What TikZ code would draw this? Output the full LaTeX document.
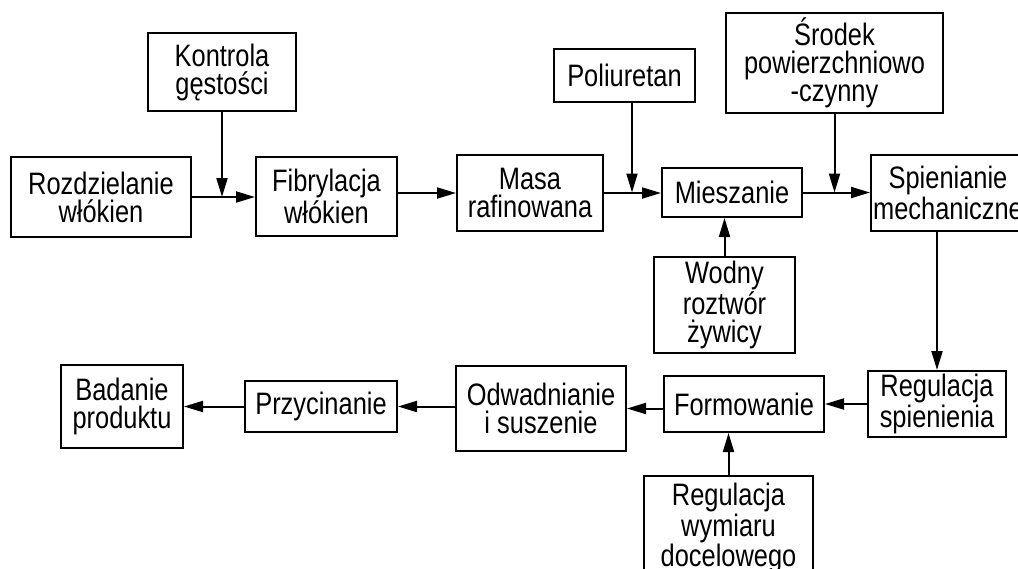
\documentclass[tikz,border=0pt]{standalone}
\usepackage{fontspec}
\setmainfont{Liberation Sans}[FakeStretch=0.82]
\usetikzlibrary{arrows.meta}
\tikzset{
  blok/.style={draw,line width=1pt,align=center,inner sep=1pt,font=\fontsize{15.5}{14}\selectfont},
  strz/.style={-{Triangle[length=9.5pt,width=5.5pt]},line width=1pt}
}
\begin{document}
\begin{tikzpicture}[x=0.5pt,y=-0.5pt]
\useasboundingbox (0,0) rectangle (1018,568);
% gorny ciag
\node[blok,minimum width=74pt,minimum height=39pt](kontr) at (222,72){Kontrola\\gęstości};
\node[blok,minimum width=90pt,minimum height=40pt](rozdz) at (101,197){Rozdzielanie\\włókien};
\node[blok,minimum width=70.5pt,minimum height=39.5pt](fibr) at (326.5,196.5){Fibrylacja\\włókien};
\node[blok,minimum width=73pt,minimum height=38pt](masa) at (530,193){Masa\\rafinowana};
\node[blok,minimum width=70.5pt,minimum height=26.5pt](poli) at (624.5,75.5){Poliuretan};
\node[blok,minimum width=70pt,minimum height=24.5pt](miesz) at (732,192.5){Mieszanie};
\node[blok,minimum width=108.5pt,minimum height=50pt](srodek) at (834.5,63){Środek\\powierzchniowo\\-czynny};
\node[blok,minimum width=77pt,minimum height=38pt](spien) at (948,193){Spienianie\\mechaniczne};
\node[blok,minimum width=70.5pt,minimum height=48pt](wodny) at (724.5,305){Wodny\\roztwór\\żywicy};
% dolny ciag
\node[blok,minimum width=69pt,minimum height=33pt](regsp) at (937,404){Regulacja\\spienienia};
\node[blok,minimum width=80pt,minimum height=28pt](form) at (744,404){Formowanie};
\node[blok,minimum width=85pt,minimum height=42.5pt](odw) at (541,408.5){Odwadnianie\\i suszenie};
\node[blok,minimum width=84.5pt,minimum height=52pt](regw) at (728.5,528){Regulacja\\wymiaru\\docelowego};
\node[blok,minimum width=76pt,minimum height=25.5pt](przyc) at (321,406.5){Przycinanie};
\node[blok,minimum width=61pt,minimum height=41.5pt](bad) at (122,406.5){Badanie\\produktu};
% strzalki
\coordinate (wezel) at (632,192.5);
\draw[strz](rozdz.east)--(rozdz.east-|fibr.west);
\draw[strz](kontr.south)--(kontr.south|-rozdz.east);
\draw[strz](fibr.east|-masa.west)--(masa.west);
\draw[strz](masa.east)--(masa.east-|miesz.west);
\draw[strz](poli.south-|wezel)--(wezel);
\draw[strz](miesz.east)--(miesz.east-|spien.west);
\draw[strz](srodek.south)--(srodek.south|-miesz.east);
\draw[strz](wodny.north)--(wodny.north|-miesz.south);
\draw[strz](regsp.north|-spien.south)--(regsp.north);
\draw[strz](regsp.west)--(regsp.west-|form.east);
\draw[strz](form.west|-odw.east)--(odw.east);
\draw[strz](regw.north)--(regw.north|-form.south);
\draw[strz](odw.west|-przyc.east)--(przyc.east);
\draw[strz](przyc.west)--(przyc.west-|bad.east);
\end{tikzpicture}
\end{document}
